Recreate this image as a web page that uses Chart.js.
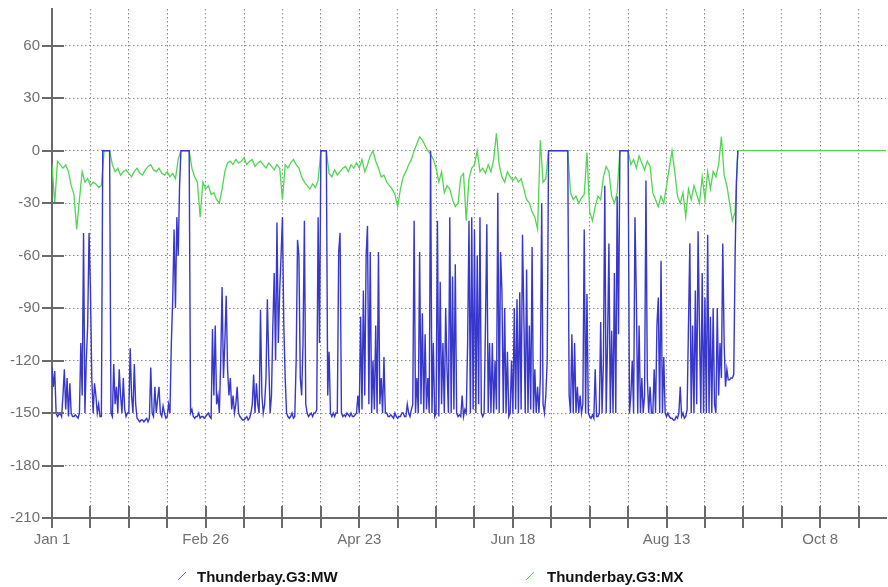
<!DOCTYPE html>
<html>
<head>
<meta charset="utf-8">
<script src="https://cdn.jsdelivr.net/npm/chart.js@4.4.0/dist/chart.umd.min.js"></script>
<style>
  html, body { margin: 0; padding: 0; background: #fff; }
  #wrap { position: relative; width: 888px; height: 587px; }
  .legend-text { position: absolute; top: 568px; font: bold 15px "Liberation Sans", Arial, sans-serif; color: #111; white-space: nowrap; }
  .legend-icon { position: absolute; top: 572px; width: 8px; height: 8px; }
</style>
</head>
<body>
<div id="wrap">
  <canvas id="chart" width="888" height="587"></canvas>
  <svg class="legend-icon" style="left:178px" viewBox="0 0 8 8"><line x1="0" y1="8" x2="8" y2="0" stroke="#7070d0" stroke-width="1"/></svg>
  <div class="legend-text" style="left:197px">Thunderbay.G3:MW</div>
  <svg class="legend-icon" style="left:526px" viewBox="0 0 8 8"><line x1="0" y1="8" x2="8" y2="0" stroke="#66d066" stroke-width="1"/></svg>
  <div class="legend-text" style="left:547px">Thunderbay.G3:MX</div>
</div>
<script>
// x axis is days since Jan 1; ticks every 2 weeks, labels every 8 weeks
const xTickDays = [0, 14, 28, 42, 56, 70, 84, 98, 112, 126, 140, 154, 168, 182, 196, 210, 224, 238, 252, 266, 280, 294];
const xTickLabels = ['Jan 1', '', '', '', 'Feb 26', '', '', '', 'Apr 23', '', '', '', 'Jun 18', '', '', '', 'Aug 13', '', '', '', 'Oct 8', ''];
const yTicks = [-210, -180, -150, -120, -90, -60, -30, 0, 30, 60];

// Thunderbay.G3:MW, one sample every half day from Jan 1
const mwStep = 0.5;
const mwValues = [
  -124,-135,-126,-150,-152,-151,-150,-152,-140,-125,-148,-130,-152,-133,-150,-152,-152,-151,-152,-153,
  -150,-110,-140,-47,-150,-120,-100,-47,-78,-130,-150,-133,-140,-150,-145,-152,-152,0,0,0,
  0,0,0,-150,-152,-122,-145,-135,-150,-125,-140,-150,-130,-148,-152,-150,-150,-113,-140,-150,
  -122,-145,-153,-154,-155,-154,-154,-155,-154,-153,-155,-153,-124,-150,-152,-135,-150,-142,-135,-150,
  -152,-146,-150,-153,-152,-145,-150,-110,-85,-45,-90,-38,-60,-20,0,0,0,0,0,0,
  0,-150,-148,-152,-153,-152,-152,-150,-153,-152,-152,-153,-152,-151,-150,-152,-153,-102,-140,-100,
  -145,-140,-150,-120,-78,-130,-110,-83,-125,-140,-130,-148,-140,-150,-145,-135,-150,-152,-153,-154,
  -154,-153,-152,-154,-153,-150,-145,-128,-150,-133,-145,-150,-91,-140,-150,-145,-130,-85,-120,-150,
  -140,-100,-70,-120,-41,-110,-80,-60,-38,-100,-130,-150,-152,-153,-152,-150,-153,-152,-120,-51,
  -60,-130,-140,-110,-40,-145,-150,-152,-151,-150,-152,-150,-150,-148,-38,-110,0,0,0,0,
  0,-140,-115,-150,-152,-150,-152,-150,-150,-58,-47,-150,-152,-151,-152,-150,-151,-152,-150,-152,
  -152,-151,-150,-140,-150,-95,-148,-80,-140,-60,-43,-145,-58,-150,-120,-148,-100,-150,-58,-145,
  -130,-150,-118,-150,-150,-152,-152,-151,-152,-153,-150,-152,-153,-152,-152,-150,-150,-152,-152,-145,
  -150,-152,-148,-145,-40,-150,-130,-150,-58,-145,-93,-150,-105,-148,-130,-150,0,-150,-110,-152,
  -150,-40,-152,-75,-145,-110,-150,-90,-125,-150,-38,-150,-72,-148,-65,-150,-152,-151,-152,-140,
  -152,-148,-150,-110,-40,-150,-38,-148,-45,-150,-60,-145,-38,-150,-152,-150,-100,-42,-150,-110,
  -150,-110,-150,-120,-148,-24,-150,-58,-80,-150,-90,-150,-115,-152,-150,-120,-150,-90,-148,-85,
  -150,-81,-148,-48,-95,-150,-68,-150,-100,-148,-55,-150,-125,-150,-135,-150,-130,-30,-145,-150,
  -140,-120,0,0,0,0,0,0,0,0,0,0,0,0,0,0,0,-140,-150,-105,
  -150,-110,-150,-135,-150,-140,-150,-145,-45,-150,-82,-150,-152,-153,-151,-153,-125,-152,-152,-150,
  -98,-150,-120,-20,-150,-110,-53,-150,-103,-150,-70,-150,-26,-105,0,0,0,0,0,0,
  0,-150,-140,-120,-150,-38,-84,-150,-100,-150,-130,-150,-140,-17,-130,-150,-135,-150,-150,-125,
  -150,-100,-84,-150,-63,-150,-118,-150,-152,-150,-152,-153,-153,-154,-154,-152,-153,-150,-135,-152,
  -150,-153,-152,-148,-100,-53,-150,-100,-150,-80,-145,-46,-100,-150,-70,-150,-84,-150,-48,-150,
  -95,-150,-90,-145,-150,-90,-140,-110,-130,-53,-110,-135,-125,-131,-131,-130,-130,-128,-60,-17,
  0
];

// Thunderbay.G3:MX, one sample per day from Jan 1
const mxValues = [
  -8, -30, -6, -8, -10, -8, -12, -20, -25, -45,
  -28, -12, -18, -16, -20, -18, -19, -21, -20, 0,
  0, 0, -8, -12, -10, -14, -12, -11, -13, -15,
  -12, -10, -13, -14, -11, -9, -8, -11, -12, -10,
  -13, -14, -12, -15, -13, -16, -5, 0, 0, 0,
  0, -10, -15, -18, -38, -18, -22, -20, -25, -24,
  -28, -30, -22, -12, -7, -6, -8, -5, -7, -6,
  -4, -8, -6, -5, -9, -7, -6, -8, -10, -7,
  -9, -11, -8, -10, -28, -8, -10, -7, -5, -8,
  -10, -15, -18, -20, -22, -19, -21, -17, 0, 0,
  0, -13, -15, -11, -14, -12, -10, -9, -12, -8,
  -10, -7, -10, -5, -12, -8, -3, 0, -6, -10,
  -15, -14, -18, -20, -22, -25, -32, -22, -15, -12,
  -8, -5, 0, 4, 8, 6, 3, 0, -2, -5,
  -10, -18, -12, -24, -20, -22, -28, -32, -30, -15,
  -13, -40, -16, -10, -8, 0, -12, -10, -13, -8,
  -12, -5, 10, -8, -15, -18, -12, -15, -17, -15,
  -18, -16, -22, -28, -30, -35, -38, -45, 6, -18,
  -16, 0, 0, 0, 0, 0, 0, 0, 0, -24,
  -28, -26, -30, -27, -25, -1, -35, -40, -32, -26,
  -28, -15, -9, -12, -26, -30, -24, 0, 0, 0,
  0, -8, -5, -10, -3, -7, -11, -6, -9, -24,
  -28, -32, -26, -30, -20, -10, 0, -12, -26, -30,
  -24, -38, -22, -28, -20, -25, -30, -15, -28, -12,
  -22, -12, -15, -8, 8, -14, -20, -30, -40, -35,
  0
];
// flat tail after the last reading
const mxTailDays = [251, 304];
const mxTailValues = [0, 0];

const mwPoints = mwValues.map((v, i) => ({ x: i * mwStep, y: v }));
const mxPoints = mxValues.map((v, i) => ({ x: i, y: v }))
  .concat(mxTailDays.map((d, i) => ({ x: d, y: mxTailValues[i] })));

// tick marks that cross the axis lines
const crossTicks = {
  id: 'crossTicks',
  afterDraw(chart) {
    const { ctx, chartArea, scales: { x, y } } = chart;
    ctx.save();
    ctx.strokeStyle = '#6a6a6a';
    ctx.lineWidth = 2;
    ctx.beginPath();
    x.ticks.forEach(t => {
      const px = Math.round(x.getPixelForValue(t.value));
      ctx.moveTo(px, chartArea.bottom - 12);
      ctx.lineTo(px, chartArea.bottom + 10);
    });
    y.ticks.forEach(t => {
      const py = Math.round(y.getPixelForValue(t.value));
      ctx.moveTo(chartArea.left - 10, py);
      ctx.lineTo(chartArea.left + 12, py);
    });
    ctx.stroke();
    ctx.restore();
  }
};

const tickFont = { family: '"Liberation Sans", Arial, sans-serif', size: 15 };

new Chart(document.getElementById('chart'), {
  type: 'line',
  data: {
    datasets: [
      {
        label: 'Thunderbay.G3:MW',
        data: mwPoints,
        borderColor: 'rgb(55, 55, 205)',
        borderWidth: 1.4,
        pointRadius: 0,
        tension: 0
      },
      {
        label: 'Thunderbay.G3:MX',
        data: mxPoints,
        borderColor: 'rgb(80, 214, 80)',
        borderWidth: 1.3,
        pointRadius: 0,
        tension: 0
      }
    ]
  },
  options: {
    responsive: false,
    animation: false,
    layout: { padding: { top: 9, right: 2, left: 0, bottom: 0 } },
    plugins: {
      legend: { display: false },
      tooltip: { enabled: false }
    },
    scales: {
      x: {
        type: 'linear',
        min: 0,
        max: 304,
        afterBuildTicks: scale => { scale.ticks = xTickDays.map(v => ({ value: v })); },
        afterFit: scale => { scale.height = 69; scale.paddingLeft = 0; scale.paddingRight = 0; },
        ticks: {
          autoSkip: false,
          maxRotation: 0,
          padding: 13,
          color: '#707070',
          font: tickFont,
          callback: value => xTickLabels[xTickDays.indexOf(value)]
        },
        grid: { color: '#8a8a8a', lineWidth: 1, drawTicks: false },
        border: { display: true, color: '#6a6a6a', width: 2, dash: [1.5, 2.5] }
      },
      y: {
        type: 'linear',
        min: -210,
        max: 81,
        afterBuildTicks: scale => { scale.ticks = yTicks.map(v => ({ value: v })); },
        afterFit: scale => { scale.width = 52; scale.paddingTop = 0; scale.paddingBottom = 0; },
        ticks: {
          padding: 12,
          color: '#707070',
          font: tickFont
        },
        grid: { color: '#8a8a8a', lineWidth: 1, drawTicks: false },
        border: { display: true, color: '#6a6a6a', width: 2, dash: [1.5, 2.5] }
      }
    }
  },
  plugins: [crossTicks]
});
</script>
</body>
</html>
